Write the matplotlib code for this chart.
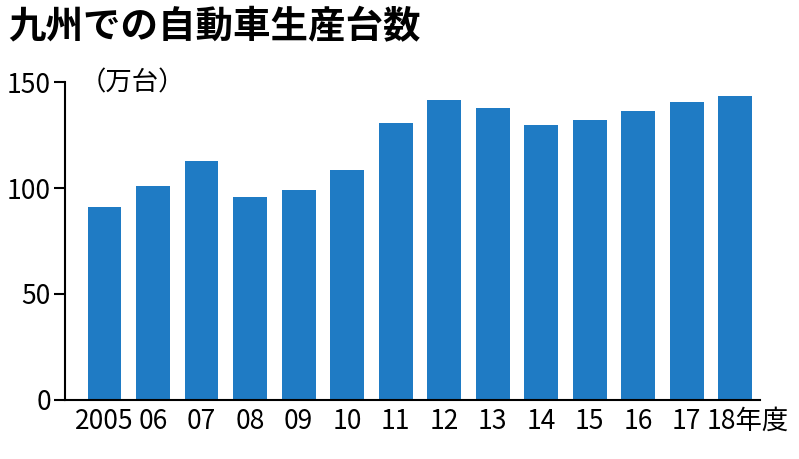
import matplotlib
matplotlib.use("Agg")
import matplotlib.pyplot as plt
from matplotlib.transforms import ScaledTranslation

plt.rcParams['font.family'] = ['Noto Sans CJK JP', 'DejaVu Sans']

labels = ["2005", "06", "07", "08", "09", "10", "11", "12", "13", "14", "15", "16", "17", "18年度"]
values = [91, 101, 112.7, 96, 99, 108.5, 130.7, 141.5, 137.7, 129.7, 132, 136.3, 140.6, 143.4]

fig = plt.figure(figsize=(7.99, 4.59), dpi=100)
ax = fig.add_axes([0.081, 0.129, 0.87, 0.692])
x = list(range(len(values)))
ax.bar(x, values, width=0.7, color="#1f7bc4")
ax.set_xlim(-0.82, 13.51)
ax.set_ylim(0, 150)
ax.set_yticks([0, 50, 100, 150])
ax.tick_params(axis='y', labelsize=19, length=8, width=1.5, direction='out', pad=2)
ax.set_xticks(x)
ax.set_xticklabels(labels)
ax.tick_params(axis='x', labelsize=19, length=0, pad=6)
last = ax.get_xticklabels()[-1]
last.set_ha("left")
last.set_transform(last.get_transform() + ScaledTranslation(-0.28, 0, fig.dpi_scale_trans))
for s in ["top", "right"]:
    ax.spines[s].set_visible(False)
ax.spines["left"].set_linewidth(1.5)
ax.spines["bottom"].set_linewidth(1.5)

fig.text(0.01, 0.985, "九州での自動車生産台数", fontsize=27, fontweight="bold", va="top", ha="left")
fig.text(0.1, 0.82, "（万台）", fontsize=19, va="center", ha="left")

fig.savefig("out.png", dpi=100)
